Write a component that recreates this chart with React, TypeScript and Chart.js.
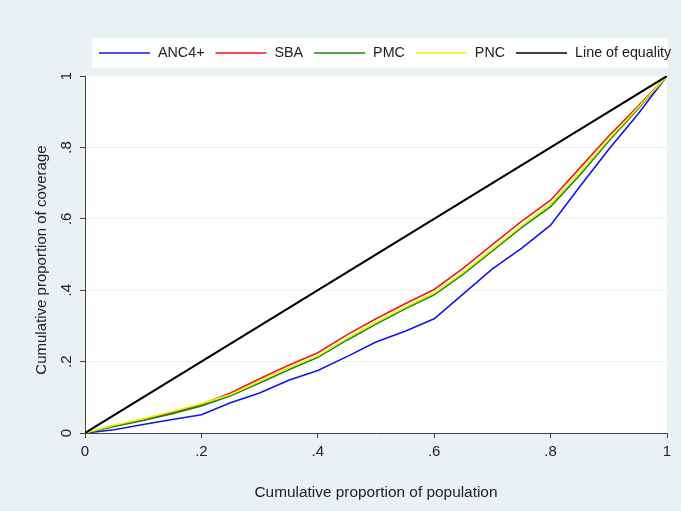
import React, { useEffect, useRef } from "react";
import { Chart, registerables } from "chart.js";

Chart.register(...registerables);

// Cumulative proportion of population (x)
const POPULATION = [0, 0.05, 0.1, 0.15, 0.2, 0.25, 0.3, 0.35, 0.4, 0.45, 0.5, 0.55, 0.6, 0.65, 0.7, 0.75, 0.8, 0.85, 0.9, 0.95, 1];
// Cumulative proportion of coverage (y) per indicator
const ANC4 = [0, 0.009, 0.024, 0.038, 0.051, 0.085, 0.112, 0.148, 0.175, 0.214, 0.255, 0.285, 0.32, 0.39, 0.46, 0.517, 0.582, 0.69, 0.795, 0.893, 1];
const SBA = [0, 0.02, 0.037, 0.057, 0.08, 0.112, 0.152, 0.19, 0.225, 0.275, 0.32, 0.362, 0.402, 0.462, 0.528, 0.593, 0.652, 0.742, 0.832, 0.915, 1];
const PMC = [0, 0.018, 0.035, 0.054, 0.076, 0.104, 0.14, 0.177, 0.212, 0.26, 0.305, 0.348, 0.387, 0.445, 0.51, 0.575, 0.634, 0.722, 0.818, 0.908, 1];
const PNC = [0, 0.022, 0.04, 0.06, 0.082, 0.108, 0.145, 0.182, 0.216, 0.265, 0.31, 0.352, 0.392, 0.45, 0.515, 0.58, 0.641, 0.73, 0.823, 0.911, 1];
const EQUALITY_X = [0, 1];
const EQUALITY_Y = [0, 1];

const SERIES_NAMES = ["ANC4+", "SBA", "PMC", "PNC", "Line of equality"];
const TICK_VALUES = [0, 0.2, 0.4, 0.6, 0.8, 1];
const TICK_LABELS = ["0", ".2", ".4", ".6", ".8", "1"];
const X_TITLE = "Cumulative proportion of population";
const Y_TITLE = "Cumulative proportion of coverage";

const COLORS = ["#1414e6", "#f01818", "#108a10", "#f0f000", "#000000"];
const FONT = '"Liberation Sans", Arial, Helvetica, sans-serif';
const TEXT_COLOR = "#222222";
const AXIS_COLOR = "#444444";

const tickLabel = (v: number) => {
  const i = TICK_VALUES.findIndex((t) => Math.abs(t - v) < 1e-9);
  return i >= 0 ? TICK_LABELS[i] : "";
};

const backgroundPlugin = {
  id: "bgPlugin",
  beforeDraw(chart: any) {
    const { ctx, chartArea } = chart;
    ctx.save();
    ctx.fillStyle = "#eaf1f3";
    ctx.fillRect(0, 0, chart.width, chart.height);
    ctx.fillStyle = "#ffffff";
    ctx.fillRect(chartArea.left, chartArea.top, chartArea.right - chartArea.left, chartArea.bottom - chartArea.top);
    // legend box
    ctx.fillRect(92, 38, 576, 30);
    ctx.restore();
  },
};

const legendPlugin = {
  id: "stataLegend",
  afterDraw(chart: any) {
    const { ctx } = chart;
    ctx.save();
    ctx.font = `14.3px ${FONT}`;
    ctx.textBaseline = "middle";
    ctx.textAlign = "left";
    let x = 99;
    const y = 53;
    chart.data.datasets.forEach((ds: any) => {
      ctx.strokeStyle = ds.borderColor;
      ctx.lineWidth = 1.5;
      ctx.beginPath();
      ctx.moveTo(x, y);
      ctx.lineTo(x + 51, y);
      ctx.stroke();
      x += 51 + 8;
      ctx.fillStyle = TEXT_COLOR;
      ctx.fillText(ds.label, x, y);
      x += ctx.measureText(ds.label).width + 11;
    });
    ctx.restore();
  },
};

const textPlugin = {
  id: "axisTexts",
  afterDraw(chart: any) {
    const { ctx } = chart;
    const yScale = chart.scales.y;
    ctx.save();
    ctx.font = `15px ${FONT}`;
    ctx.fillStyle = TEXT_COLOR;
    ctx.textAlign = "center";
    ctx.textBaseline = "middle";
    yScale.ticks.forEach((t: any) => {
      const py = yScale.getPixelForValue(t.value);
      ctx.save();
      ctx.translate(67, py);
      ctx.rotate(-Math.PI / 2);
      ctx.fillText(tickLabel(t.value), 0, 0);
      ctx.restore();
    });
    // y axis title
    ctx.font = `15px ${FONT}`;
    ctx.save();
    ctx.translate(42, 260);
    ctx.rotate(-Math.PI / 2);
    ctx.fillText(Y_TITLE, 0, 0);
    ctx.restore();
    ctx.restore();
  },
};

export default function App() {
  const ref = useRef<HTMLCanvasElement | null>(null);

  useEffect(() => {
    if (!ref.current) return;
    const seriesY = [ANC4, SBA, PMC, PNC];
    const datasets: any[] = seriesY.map((ys, i) => ({
      label: SERIES_NAMES[i],
      data: POPULATION.map((x, j) => ({ x, y: ys[j] })),
      borderColor: COLORS[i],
      backgroundColor: COLORS[i],
      borderWidth: 1.6,
      pointRadius: 0,
      tension: 0,
      order: 4 - i,
    }));
    datasets.push({
      label: SERIES_NAMES[4],
      data: EQUALITY_X.map((x, j) => ({ x, y: EQUALITY_Y[j] })),
      borderColor: COLORS[4],
      backgroundColor: COLORS[4],
      borderWidth: 2,
      pointRadius: 0,
      tension: 0,
      order: 0,
    });

    const chart = new Chart(ref.current, {
      type: "line",
      data: { datasets },
      plugins: [backgroundPlugin, legendPlugin, textPlugin],
      options: {
        animation: false,
        responsive: false,
        devicePixelRatio: 1,
        layout: { padding: { left: 0, top: 76, right: 14, bottom: 0 } },
        plugins: { legend: { display: false }, tooltip: { enabled: false } },
        scales: {
          x: {
            type: "linear",
            min: 0,
            max: 1,
            afterBuildTicks: (s: any) => {
              s.ticks = TICK_VALUES.map((v) => ({ value: v }));
            },
            afterFit: (s: any) => {
              s.height = 78;
            },
            ticks: {
              callback: (v: any) => tickLabel(Number(v)),
              font: { family: FONT, size: 15 },
              color: TEXT_COLOR,
              padding: 5,
              maxRotation: 0,
              minRotation: 0,
            },
            grid: { drawOnChartArea: false, drawTicks: true, tickLength: 5, tickColor: AXIS_COLOR },
            border: { display: true, color: AXIS_COLOR, width: 1 },
            title: {
              display: true,
              text: X_TITLE,
              font: { family: FONT, size: 15.4 },
              color: TEXT_COLOR,
              padding: { top: 0, bottom: 9 },
            },
          },
          y: {
            type: "linear",
            min: 0,
            max: 1,
            afterBuildTicks: (s: any) => {
              s.ticks = TICK_VALUES.map((v) => ({ value: v }));
            },
            afterFit: (s: any) => {
              s.width = 85;
            },
            ticks: { display: false },
            grid: {
              color: (c: any) => (c.tick && c.tick.value > 0 && c.tick.value < 1 ? "#eef1f3" : "rgba(0,0,0,0)"),
              drawTicks: true,
              tickLength: 5,
              tickColor: AXIS_COLOR,
            },
            border: { display: true, color: AXIS_COLOR, width: 1 },
            title: { display: false },
          },
        },
      },
    });
    return () => chart.destroy();
  }, []);

  return (
    <div style={{ position: "fixed", left: 0, top: 0, width: 681, height: 511 }}>
      <canvas ref={ref} width={681} height={511} />
    </div>
  );
}
